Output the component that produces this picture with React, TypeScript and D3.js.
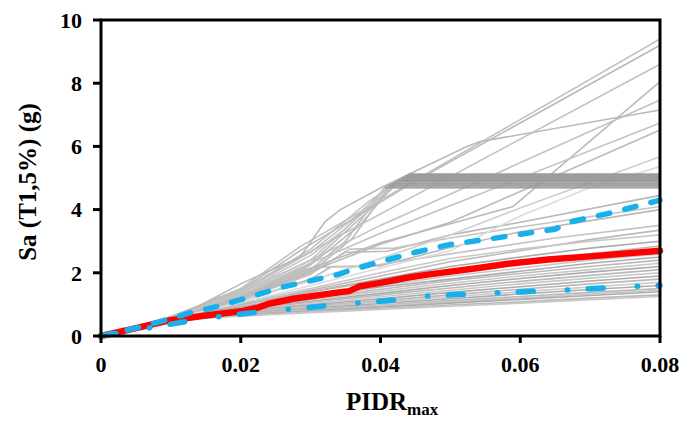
import React from "react";
import * as d3 from "d3";

type Pt = [number, number];

// ---------- axis ticks ----------
const X_TICKS = [0, 0.02, 0.04, 0.06, 0.08];
const X_TICK_LABELS = ["0", "0.02", "0.04", "0.06", "0.08"];
const Y_TICKS = [0, 2, 4, 6, 8, 10];
const Y_TICK_LABELS = ["0", "2", "4", "6", "8", "10"];

// ---------- individual IDA curves ----------
// curves that keep rising steeply (upper fan)
const HIGH_CURVES: Pt[][] = [
  [[0, 0], [0.01, 0.6], [0.02, 1.5], [0.0285, 2.83], [0.08, 9.4]],
  [[0, 0], [0.01, 0.6], [0.02, 1.45], [0.0285, 2.7], [0.045, 4.9], [0.08, 9.2]],
  [[0, 0], [0.01, 0.6], [0.02, 1.4], [0.0285, 2.5], [0.08, 8.6]],
  [[0, 0], [0.01, 0.58], [0.02, 1.25], [0.03, 2.15], [0.04, 2.95], [0.05, 3.55], [0.059, 4.1], [0.08, 8.05]],
  [[0, 0], [0.01, 0.59], [0.02, 1.35], [0.03, 2.4], [0.04, 3.5], [0.08, 7.47]],
  [[0, 0], [0.01, 0.62], [0.014, 0.95], [0.02, 1.65], [0.0285, 2.5], [0.032, 3.6], [0.0342, 3.99], [0.0404, 4.73], [0.0523, 5.99], [0.0542, 6.15], [0.08, 7.15]],
  [[0, 0], [0.01, 0.58], [0.02, 1.3], [0.03, 2.3], [0.04, 3.25], [0.08, 6.74]],
  [[0, 0], [0.01, 0.57], [0.02, 1.2], [0.03, 2.05], [0.04, 2.9], [0.05, 3.6], [0.08, 6.52]],
];
const LIGHT_HIGH_CURVES: Pt[][] = [
  [[0, 0], [0.01, 0.56], [0.02, 1.12], [0.03, 1.75], [0.04, 2.45], [0.05, 3.2], [0.06, 4.05], [0.08, 5.67]],
  [[0, 0], [0.01, 0.55], [0.02, 1.05], [0.03, 1.6], [0.04, 2.15], [0.05, 2.7], [0.06, 3.8], [0.07, 4.7], [0.08, 5.36]],
];
// curves that flatten (collapse plateau); the last two points form the flat part
const PLATEAU_CURVES: Pt[][] = [
  [[0, 0], [0.01, 0.58], [0.02, 1.2], [0.03, 2.1], [0.035, 3.0], [0.0406, 4.7], [0.08, 4.7]],
  [[0, 0], [0.01, 0.6], [0.02, 1.35], [0.03, 2.55], [0.035, 3.4], [0.041, 4.76], [0.08, 4.76]],
  [[0, 0], [0.01, 0.57], [0.02, 1.15], [0.03, 2.0], [0.036, 3.1], [0.0415, 4.82], [0.08, 4.82]],
  [[0, 0], [0.01, 0.6], [0.02, 1.4], [0.03, 2.65], [0.036, 3.7], [0.042, 4.88], [0.08, 4.88]],
  [[0, 0], [0.01, 0.58], [0.02, 1.25], [0.03, 2.25], [0.037, 3.5], [0.0425, 4.94], [0.08, 4.94]],
  [[0, 0], [0.01, 0.6], [0.02, 1.38], [0.03, 2.4], [0.037, 3.8], [0.043, 5.0], [0.08, 5.0]],
  [[0, 0], [0.01, 0.59], [0.02, 1.3], [0.03, 2.3], [0.038, 3.9], [0.0435, 5.06], [0.08, 5.06]],
  [[0, 0], [0.01, 0.6], [0.02, 1.42], [0.03, 2.75], [0.038, 4.2], [0.044, 5.12], [0.08, 5.12]],
];
// curves with a short flat step
const STEP_CURVES: Pt[][] = [
  [[0, 0], [0.01, 0.57], [0.02, 1.2], [0.03, 2.0], [0.035, 2.65], [0.041, 2.68], [0.05, 3.2], [0.06, 3.6], [0.08, 4.45]],
  [[0, 0], [0.01, 0.57], [0.02, 1.15], [0.03, 1.95], [0.0355, 2.75], [0.042, 2.78], [0.05, 3.1], [0.06, 3.45], [0.08, 4.1]],
  [[0, 0], [0.01, 0.56], [0.02, 1.1], [0.03, 1.8], [0.033, 2.2], [0.04, 2.22], [0.05, 2.8], [0.06, 3.3], [0.08, 4.0]],
  [[0, 0], [0.01, 0.58], [0.02, 1.2], [0.029, 2.1], [0.031, 2.18], [0.038, 2.2], [0.05, 2.6], [0.065, 3.1], [0.08, 3.5]],
];
// softening curves (lower bundle), sampled at LOWER_X
const LOWER_X = [0, 0.005, 0.01, 0.015, 0.02, 0.03, 0.04, 0.05, 0.06, 0.07, 0.08];
const LOWER_Y: number[][] = [
  [0, 0.3, 0.57, 0.8, 1.0, 1.45, 1.9, 2.35, 2.7, 3.05, 3.35],
  [0, 0.3, 0.57, 0.82, 1.05, 1.5, 2.0, 2.45, 2.75, 3.0, 3.2],
  [0, 0.29, 0.56, 0.78, 0.98, 1.4, 1.8, 2.2, 2.5, 2.78, 3.0],
  [0, 0.29, 0.56, 0.8, 1.0, 1.4, 1.75, 2.05, 2.35, 2.6, 2.85],
  [0, 0.29, 0.55, 0.75, 0.95, 1.3, 1.6, 1.9, 2.15, 2.4, 2.6],
  [0, 0.29, 0.55, 0.76, 0.92, 1.25, 1.55, 1.8, 2.05, 2.3, 2.5],
  [0, 0.28, 0.54, 0.72, 0.88, 1.18, 1.48, 1.75, 1.98, 2.2, 2.4],
  [0, 0.28, 0.54, 0.72, 0.87, 1.15, 1.42, 1.67, 1.9, 2.1, 2.3],
  [0, 0.28, 0.53, 0.7, 0.85, 1.1, 1.35, 1.6, 1.82, 2.02, 2.2],
  [0, 0.28, 0.53, 0.7, 0.83, 1.07, 1.3, 1.52, 1.73, 1.92, 2.1],
  [0, 0.28, 0.52, 0.68, 0.8, 1.02, 1.24, 1.45, 1.65, 1.83, 2.0],
  [0, 0.28, 0.52, 0.67, 0.78, 0.98, 1.18, 1.38, 1.56, 1.74, 1.9],
  [0, 0.27, 0.52, 0.66, 0.76, 0.95, 1.12, 1.3, 1.48, 1.65, 1.8],
  [0, 0.27, 0.5, 0.64, 0.74, 0.92, 1.08, 1.24, 1.4, 1.55, 1.7],
  [0, 0.27, 0.5, 0.63, 0.72, 0.88, 1.03, 1.18, 1.33, 1.47, 1.6],
  [0, 0.27, 0.5, 0.62, 0.7, 0.85, 0.98, 1.12, 1.25, 1.38, 1.5],
  [0, 0.27, 0.48, 0.6, 0.68, 0.82, 0.95, 1.08, 1.2, 1.33, 1.45],
  [0, 0.26, 0.48, 0.6, 0.67, 0.8, 0.92, 1.04, 1.16, 1.28, 1.4],
  [0, 0.26, 0.47, 0.58, 0.65, 0.77, 0.88, 0.98, 1.08, 1.2, 1.3],
  [0, 0.26, 0.46, 0.57, 0.63, 0.74, 0.84, 0.94, 1.04, 1.15, 1.25],
];

// ---------- summary curves ----------
const MEDIAN: Pt[] = [
  [0, 0], [0.005, 0.25], [0.01, 0.5], [0.015, 0.65], [0.02, 0.78], [0.0225, 0.9], [0.024, 1.02],
  [0.0275, 1.18], [0.034, 1.38], [0.0355, 1.42], [0.037, 1.57], [0.04, 1.68], [0.044, 1.85],
  [0.047, 1.95], [0.054, 2.15], [0.058, 2.28], [0.064, 2.42], [0.07, 2.52], [0.08, 2.7],
];
const P84: Pt[] = [
  [0, 0], [0.005, 0.25], [0.01, 0.55], [0.013, 0.75], [0.016, 0.9], [0.02, 1.15], [0.026, 1.55],
  [0.03, 1.75], [0.034, 1.95], [0.036, 2.1], [0.04, 2.35], [0.045, 2.65], [0.05, 2.9], [0.055, 3.05],
  [0.06, 3.22], [0.065, 3.38], [0.067, 3.6], [0.073, 3.9], [0.08, 4.3],
];
const P16: Pt[] = [
  [0, 0], [0.0065, 0.24], [0.012, 0.45], [0.0165, 0.6], [0.021, 0.72], [0.027, 0.85], [0.032, 0.95],
  [0.037, 1.05], [0.042, 1.14], [0.047, 1.27], [0.057, 1.37], [0.067, 1.46], [0.077, 1.58], [0.08, 1.6],
];

const FONT = "'Liberation Serif', 'Times New Roman', Times, serif";

export default function App() {
  const W = 681;
  const H = 421;
  const left = 101, right = 660, top = 20, bottom = 336;
  const x = d3.scaleLinear().domain([0, 0.08]).range([left, right]);
  const y = d3.scaleLinear().domain([0, 10]).range([bottom, top]);
  const line = d3
    .line<Pt>()
    .x((d) => x(d[0]))
    .y((d) => y(d[1]));

  const lowerCurves: Pt[][] = LOWER_Y.map((row) => row.map((v, i) => [LOWER_X[i], v] as Pt));

  return (
    <svg
      width={W}
      height={H}
      style={{ position: "absolute", left: 0, top: 0, background: "#fff" }}
      fontFamily={FONT}
    >
      <rect x={0} y={0} width={W} height={H} fill="#fff" />
      <g fill="none" strokeLinejoin="round">
        {lowerCurves.map((c, i) => (
          <path key={"l" + i} d={line(c) || ""} stroke={i % 3 === 1 ? "#c8c8c8" : i % 3 === 2 ? "#acacac" : "#bababa"} strokeWidth={1.6} />
        ))}
        {STEP_CURVES.map((c, i) => (
          <path key={"s" + i} d={line(c) || ""} stroke={i % 2 ? "#c4c4c4" : "#b8b8b8"} strokeWidth={1.6} />
        ))}
        {LIGHT_HIGH_CURVES.map((c, i) => (
          <path key={"lh" + i} d={line(c) || ""} stroke={i ? "#dcdcdc" : "#cfcfcf"} strokeWidth={1.6} />
        ))}
        {PLATEAU_CURVES.map((c, i) => (
          <path key={"pr" + i} d={line(c.slice(0, c.length - 1)) || ""} stroke={i % 2 ? "#c4c4c4" : "#bcbcbc"} strokeWidth={1.6} />
        ))}
        {HIGH_CURVES.map((c, i) => (
          <path key={"h" + i} d={line(c) || ""} stroke={i % 2 ? "#bababa" : "#c2c2c2"} strokeWidth={1.6} />
        ))}
        {PLATEAU_CURVES.map((c, i) => (
          <path key={"pf" + i} d={line(c.slice(c.length - 2)) || ""} stroke="#9c9c9c" strokeWidth={2} />
        ))}
        <path d={line(MEDIAN) || ""} stroke="#ff0000" strokeWidth={6.5} strokeLinecap="round" />
        <path d={line(P84) || ""} stroke="#16b1ec" strokeWidth={5.5} strokeLinecap="round" strokeDasharray="11.5,15.5" />
        <path d={line(P16) || ""} stroke="#16b1ec" strokeWidth={5.5} strokeLinecap="round" strokeDasharray="15,34,0.5,20.5" />
      </g>

      {/* frame */}
      <rect x={left} y={top} width={right - left} height={bottom - top} fill="none" stroke="#000" strokeWidth={3} />

      {/* y ticks */}
      {Y_TICKS.map((t, i) => (
        <g key={"yt" + i}>
          <line x1={left - 8} x2={left} y1={y(t)} y2={y(t)} stroke="#000" strokeWidth={3} />
          <text x={82} y={y(t)} dy="0.35em" textAnchor="end" fontSize={22} fontWeight="bold" fill="#000">
            {Y_TICK_LABELS[i]}
          </text>
        </g>
      ))}
      {/* x ticks */}
      {X_TICKS.map((t, i) => (
        <g key={"xt" + i}>
          <line x1={x(t)} x2={x(t)} y1={bottom} y2={bottom + 7} stroke="#000" strokeWidth={3} />
          <text x={x(t)} y={372} textAnchor="middle" fontSize={22} fontWeight="bold" fill="#000">
            {X_TICK_LABELS[i]}
          </text>
        </g>
      ))}

      {/* axis titles */}
      <text x={346} y={410} fontSize={25} fontWeight="bold" fill="#000">
        PIDR
        <tspan fontSize={17} dy={5}>max</tspan>
      </text>
      <text
        transform={`translate(36,${(top + bottom) / 2 + 4}) rotate(-90)`}
        textAnchor="middle"
        fontSize={25}
        fontWeight="bold"
        fill="#000"
      >
        Sa (T1,5%) (g)
      </text>
    </svg>
  );
}
